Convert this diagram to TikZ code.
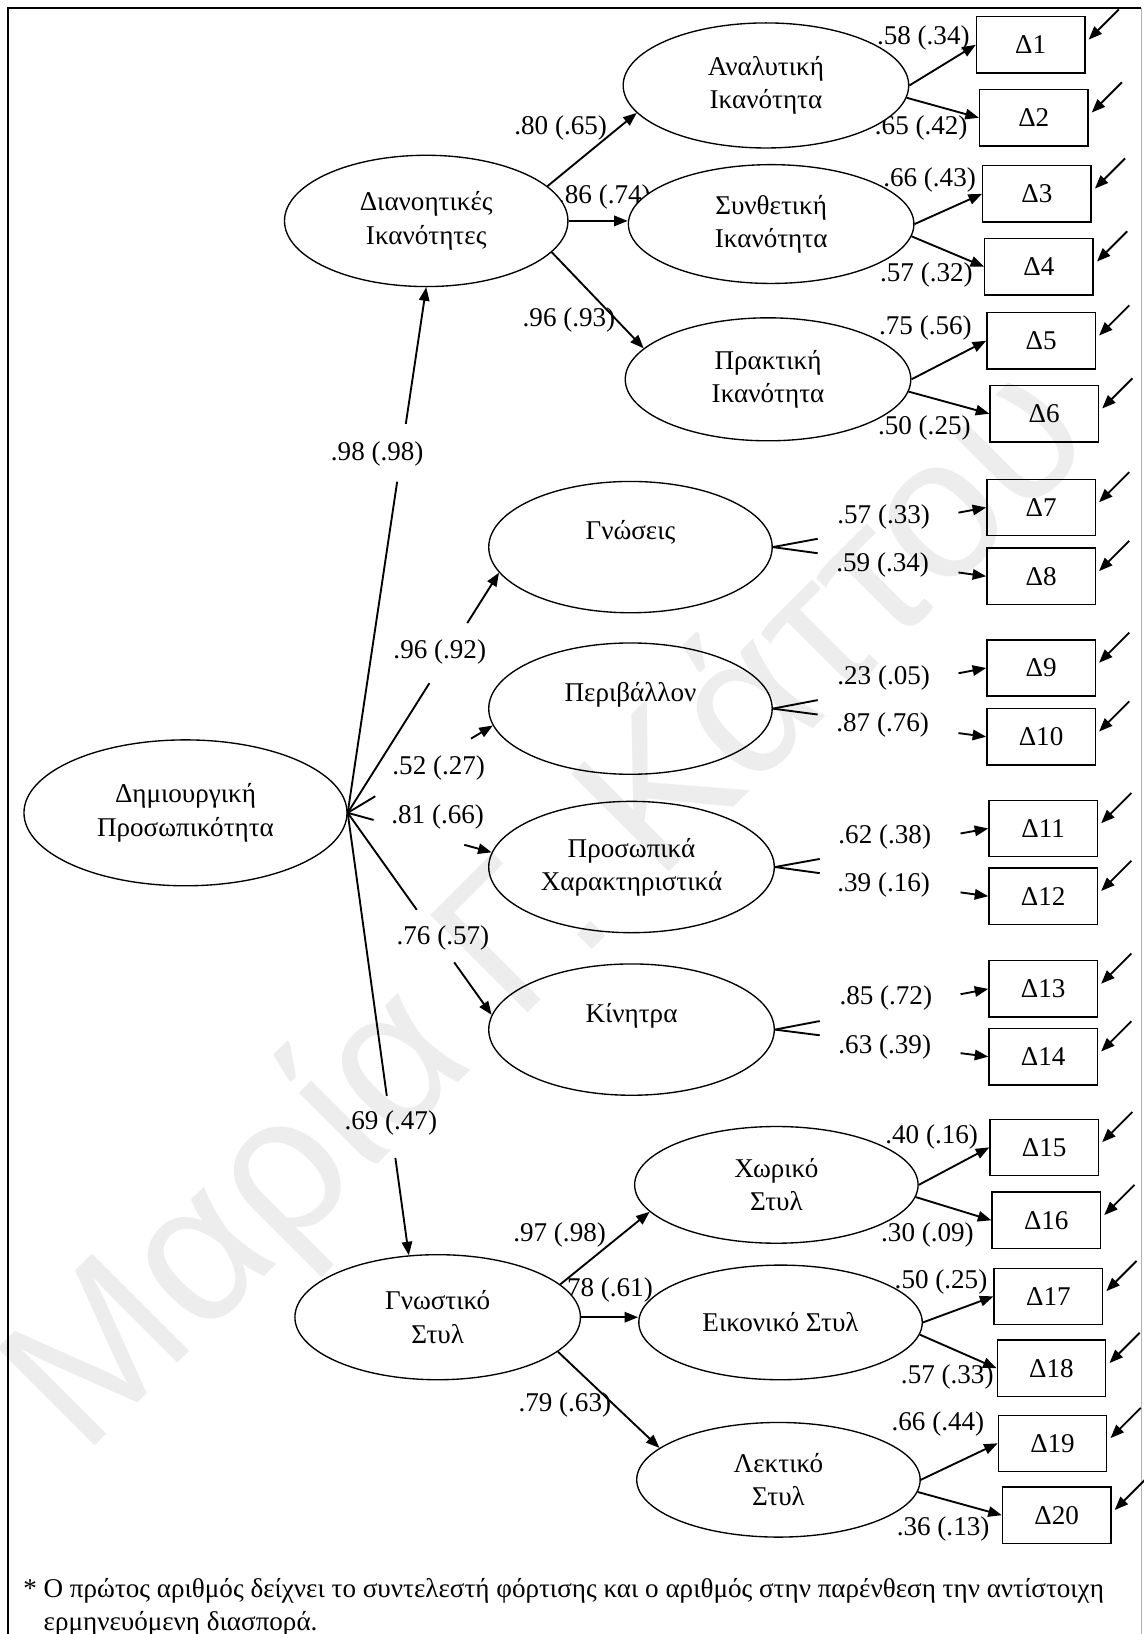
\documentclass[tikz,border=0pt]{standalone}
\usepackage{fontspec}
\setmainfont{Liberation Serif}
\newfontfamily\wmfont{Liberation Sans}
\usetikzlibrary{calc}
\usetikzlibrary{arrows.meta}
\usetikzlibrary{shapes.geometric}

\begin{document}
\begin{tikzpicture}[x=0.5pt,y=-0.5pt,
    font=\fontsize{13}{16}\selectfont,
    lat/.style={ellipse,draw=black,line width=0.65pt,fill=white,inner sep=0pt,align=center},
    obs/.style={rectangle,draw=black,line width=0.65pt,fill=white,minimum width=52pt,minimum height=27pt,inner sep=0pt},
    coef/.style={inner sep=0pt}]
\useasboundingbox (0,0) rectangle (1097,1568);

% frame
\draw[line width=1.1pt] (8,1568) -- (8,8) -- (1095,8);
\draw[black!30,line width=0.5pt] (1095,8) -- (1095,1568);

% loadings
\node[coef] (c1) at (538,123) {.80 (.65)};
\node[coef] (c2) at (580,189) {.86 (.74)};
\node[coef] (c3) at (546,307) {.96 (.93)};
\node[coef] (c4) at (886,36) {.58 (.34)};
\node[coef] (c5) at (884,123) {.65 (.42)};
\node[coef] (c6) at (892,173) {.66 (.43)};
\node[coef] (c7) at (889,264) {.57 (.32)};
\node[coef] (c8) at (888,315) {.75 (.56)};
\node[coef] (c9) at (887,411) {.50 (.25)};
\node[coef] (c10) at (362,436) {.98 (.98)};
\node[coef] (c11) at (848,496) {.57 (.33)};
\node[coef] (c12) at (847,542) {.59 (.34)};
\node[coef] (c13) at (422,626) {.96 (.92)};
\node[coef] (c14) at (848,651) {.23 (.05)};
\node[coef] (c15) at (847,696) {.87 (.76)};
\node[coef] (c16) at (421,737) {.52 (.27)};
\node[coef] (c17) at (420,784) {.81 (.66)};
\node[coef] (c18) at (849,803) {.62 (.38)};
\node[coef] (c19) at (848,849) {.39 (.16)};
\node[coef] (c20) at (425,900) {.76 (.57)};
\node[coef] (c21) at (850,958) {.85 (.72)};
\node[coef] (c22) at (849,1005) {.63 (.39)};
\node[coef] (c23) at (375,1078) {.69 (.47)};
\node[coef] (c24) at (894,1091) {.40 (.16)};
\node[coef] (c25) at (890,1185) {.30 (.09)};
\node[coef] (c26) at (537,1185) {.97 (.98)};
\node[coef] (c27) at (582,1238) {.78 (.61)};
\node[coef] (c28) at (903,1230) {.50 (.25)};
\node[coef] (c29) at (909,1321) {.57 (.33)};
\node[coef] (c30) at (542,1348) {.79 (.63)};
\node[coef] (c31) at (900,1366) {.66 (.44)};
\node[coef] (c32) at (905,1467) {.36 (.13)};

% latent variables
\begin{scope}[every node/.style={lat}]
\node[minimum width=155pt,minimum height=70pt] (dem) at (178,780) {Δημιουργική\\Προσωπικότητα};
\node[minimum width=136pt,minimum height=63pt] (di) at (409,212) {Διανοητικές\\Ικανότητες};
\node[minimum width=137pt,minimum height=60pt] (an) at (735,82) {Αναλυτική\\Ικανότητα};
\node[minimum width=137pt,minimum height=57pt] (sy) at (740,215) {Συνθετική\\Ικανότητα};
\node[minimum width=137pt,minimum height=59pt] (pr) at (737,364) {Πρακτική\\Ικανότητα};
\node[minimum width=136pt,minimum height=63pt] (gn) at (605,525) {Γνώσεις\\~};
\node[minimum width=136pt,minimum height=63pt] (pe) at (605,680) {Περιβάλλον\\~};
\node[minimum width=137pt,minimum height=63pt] (ps) at (606,832) {Προσωπικά\\Χαρακτηριστικά};
\node[minimum width=137pt,minimum height=63pt] (ki) at (606,988) {Κίνητρα\\~};
\node[minimum width=137pt,minimum height=60pt] (gs) at (420,1264) {Γνωστικό\\Στυλ};
\node[minimum width=136pt,minimum height=56pt] (xo) at (745,1137) {Χωρικό\\Στυλ};
\node[minimum width=136pt,minimum height=55pt] (ei) at (749,1269) {Εικονικό Στυλ};
\node[minimum width=136pt,minimum height=55pt] (le) at (747,1420) {Λεκτικό\\Στυλ};
\end{scope}

% indicators
\foreach \i/\x/\y in {1/989/43, 2/992/113, 3/995/186, 4/997/256, 5/999/327,
    6/1002/397, 7/999/487, 8/999/553, 9/999/641, 10/999/707,
    11/1001/795, 12/1001/860, 13/1001/949, 14/1001/1014, 15/1002/1101,
    16/1004/1171, 17/1006/1244, 18/1009/1313, 19/1010/1385, 20/1014/1454}
  \node[obs] (d\i) at (\x,\y) {Δ\i};

\begin{scope}[>={Triangle[length=6.5pt,width=5pt]}, line width=0.9pt]
% second order paths, cut by their labels
\foreach \a/\b/\s/\e in {dem.east/di.south/.63/.74, dem.east/gn.191/.54/.79,
    dem.east/pe.187/.19/.85, dem.east/ps.174/.18/.81,
    dem.east/ki.174/.48/.74, dem.east/gs.115/.64/.78}
  {\draw (\a) -- ($(\a)!\s!(\b)$);
   \draw[->] ($(\a)!\e!(\b)$) -- (\b);}

\draw[->] (di.16) -- (an.192);
\draw[->] (di.east) -- (di.east -| sy.west);
\draw[->] (di.-14) -- (pr.166);
\draw[->] (gs.15) -- (xo.192);
\draw[->] (gs.east) -- (gs.east -| ei.west);
\draw[->] (gs.-16) -- (le.165);

\foreach \e/\u/\l in {an/d1/d2, sy/d3/d4, pr/d5/d6, xo/d15/d16, ei/d17/d18, le/d19/d20}
  {\draw[->] (\e.east) -- (\u.west);
   \draw[->] (\e.-5) -- (\l.west);}

\foreach \g/\u/\l in {gn/d7/d8, pe/d9/d10, ps/d11/d12, ki/d13/d14}
  {\draw (\g.east) -- ($(\g.east)!.21!(\u.west)$);
   \draw[->] ($(\g.east)!.87!(\u.west)$) -- (\u.west);
   \draw (\g.east) -- ($(\g.east)!.21!(\l.west)$);
   \draw[->] ($(\g.east)!.87!(\l.west)$) -- (\l.west);}

% errors
\foreach \i in {1,...,20}
  {\coordinate (e\i) at ([shift={(32,-34)}]d\i.east);
   \draw[->] (e\i) -- ([shift={(3,-5)}]d\i.east);}
\end{scope}

\node[anchor=north west,align=left,inner sep=0pt] (note) at (22,1514)
  {* Ο πρώτος αριθμός δείχνει το συντελεστή φόρτισης και ο αριθμός στην παρένθεση την αντίστοιχη\\
   \hphantom{* }ερμηνευόμενη διασπορά.};

\node[font=\wmfont\fontsize{96}{96}\selectfont,text=black,text opacity=0.07,rotate=45] (wm) at (530,875) {Μαρία Γ. Κάττου};
\end{tikzpicture}
\end{document}
